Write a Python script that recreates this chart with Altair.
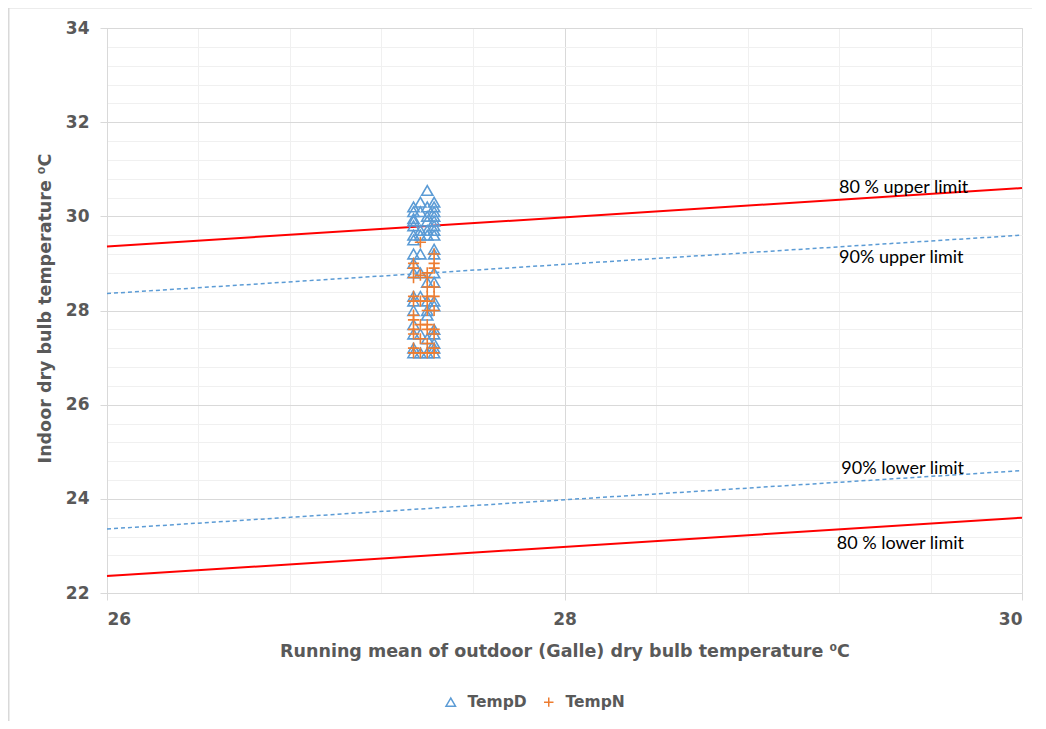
import altair as alt
import pandas as pd

# ---- data ----
tempD_x = ([27.34] * 17) + ([27.37] * 9) + ([27.40] * 12) + ([27.43] * 19)
tempD_y = [30.2, 30.1, 29.95, 29.9, 29.8, 29.6, 29.5, 29.2, 29.0, 28.8, 28.3, 28.2, 28.0, 27.7, 27.5, 27.2, 27.1,
           30.3, 30.1, 29.7, 29.6, 29.2, 28.8, 28.3, 27.5, 27.1,
           30.55, 30.2, 30.0, 29.9, 29.7, 29.6, 28.6, 28.2, 28.0, 27.9, 27.4, 27.1,
           30.3, 30.2, 30.1, 30.0, 29.9, 29.8, 29.7, 29.6, 29.3, 29.2, 28.8, 28.6, 28.2, 28.1, 27.6, 27.5, 27.3, 27.2, 27.1]
tempN_x = ([27.34] * 11) + ([27.37] * 6) + ([27.40] * 10) + ([27.43] * 10)
tempN_y = [29.0, 28.9, 28.7, 28.3, 28.2, 27.9, 27.8, 27.6, 27.5, 27.2, 27.1,
           29.45, 28.75, 28.2, 27.7, 27.4, 27.1,
           28.8, 28.7, 28.5, 28.3, 28.2, 28.0, 27.7, 27.6, 27.3, 27.1,
           29.2, 29.0, 28.9, 28.5, 28.3, 28.0, 27.6, 27.5, 27.2, 27.1]

line_x = [26, 30]
upper80 = [29.36, 30.60]
upper90 = [28.36, 29.60]
lower90 = [23.36, 24.60]
lower80 = [22.36, 23.60]

label_text = ["80 % upper limit", "90% upper limit", "90% lower limit", "80 % lower limit"]
label_x = [29.20, 29.20, 29.21, 29.19]
label_y = [30.60, 29.11, 24.63, 23.04]

grid_x = [26, 26.4, 26.8, 27.2, 27.6, 28, 28.4, 28.8, 29.2, 29.6, 30]
grid_y = [22, 22.4, 22.8, 23.2, 23.6, 24, 24.4, 24.8, 25.2, 25.6, 26, 26.4, 26.8, 27.2, 27.6,
          28, 28.4, 28.8, 29.2, 29.6, 30, 30.4, 30.8, 31.2, 31.6, 32, 32.4, 32.8, 33.2, 33.6, 34]

series = ["TempD", "TempN"]
colors = ["#5B9BD5", "#ED7D31"]

# ---- tables ----
pts = pd.DataFrame({
    "x": tempD_x + tempN_x,
    "y": tempD_y + tempN_y,
    "series": ["TempD"] * len(tempD_x) + ["TempN"] * len(tempN_x),
})
red = pd.DataFrame({"x": line_x * 2, "y": upper80 + lower80, "k": ["u"] * 2 + ["l"] * 2})
blue = pd.DataFrame({"x": line_x * 2, "y": upper90 + lower90, "k": ["u"] * 2 + ["l"] * 2})
labels = pd.DataFrame({"x": label_x, "y": label_y, "t": label_text})

MAJOR = "abs(datum.value/2 - round(datum.value/2)) < 0.001"
AX_FONT = "DejaVu Sans"
GRAY = "#595959"

x_scale = alt.Scale(domain=[26, 30], nice=False, zero=False)
y_scale = alt.Scale(domain=[22, 34], nice=False, zero=False)

common = dict(
    format=".0f", labelExpr=f"{MAJOR} ? datum.label : ''", labelOverlap=False, tickCount=200,
    gridColor={"condition": {"test": MAJOR, "value": "#d9d9d9"}, "value": "#f0f0f0"},
    tickOpacity={"condition": {"test": MAJOR, "value": 1}, "value": 0},
    tickColor="#d9d9d9", tickSize=7, domainColor="#d9d9d9",
    labelFont=AX_FONT, labelFontSize=17, labelFontWeight="bold", labelColor=GRAY, labelPadding=11,
    titleFont=AX_FONT, titleFontSize=17.5, titleFontWeight="bold", titleColor=GRAY,
    titleBaseline="middle", titleAlign="center",
)

x_axis = alt.Axis(
    values=grid_x,
    title="Running mean of outdoor (Galle) dry bulb temperature \u2070C",
    titleX=457.5, titleY=58, **common,
)
y_axis = alt.Axis(
    values=grid_y,
    title="Indoor dry bulb temperature \u2070C",
    titleX=-62, titleY=280, titleAngle=-90, **common,
)

red_lines = alt.Chart(red).mark_line(color="#FF0000", strokeWidth=2).encode(
    x=alt.X("x:Q", scale=x_scale, axis=x_axis),
    y=alt.Y("y:Q", scale=y_scale, axis=y_axis),
    detail="k:N",
)
blue_lines = alt.Chart(blue).mark_line(color="#5B9BD5", strokeWidth=1.5, strokeDash=[4, 3]).encode(
    x="x:Q", y="y:Q", detail="k:N",
)

legend_opts = dict(title=None, orient="none", legendX=336, legendY=666,
                   direction="horizontal", labelFont=AX_FONT, labelFontSize=15.5,
                   labelFontWeight="bold", labelColor=GRAY, symbolStrokeWidth=1.5,
                   symbolSize=90, columnPadding=14, labelOffset=9, padding=0)

points = alt.Chart(pts).mark_point(filled=False, size=125, strokeWidth=1.6, opacity=1).encode(
    x="x:Q",
    y="y:Q",
    color=alt.Color("series:N", scale=alt.Scale(domain=series, range=colors),
                    legend=alt.Legend(**legend_opts)),
    shape=alt.Shape("series:N", scale=alt.Scale(domain=series, range=["triangle-up", "M-1,0L1,0M0,-1L0,1"]),
                    legend=alt.Legend(**legend_opts)),
)

texts = alt.Chart(labels).mark_text(align="left", baseline="middle", font="Lato", fontSize=18,
                                     color="#000000").encode(x="x:Q", y="y:Q", text="t:N")

border_df = pd.DataFrame({"a": [0]})
border_left = alt.Chart(border_df).mark_rule(color="#d9d9d9", strokeWidth=2, clip=False).encode(
    x=alt.value(-98.5), y=alt.value(-20), y2=alt.value(730))
border_top = alt.Chart(border_df).mark_rule(color="#d9d9d9", strokeWidth=2, clip=False).encode(
    x=alt.value(-98.5), x2=alt.value(940), y=alt.value(-20.5))

chart = alt.layer(red_lines, blue_lines, points, texts, border_left, border_top).properties(
    width=915, height=565,
    autosize=alt.AutoSizeParams(type="none"),
    padding={"left": 99, "top": 20, "right": 10, "bottom": 128},
).configure_view(stroke=None).configure(background="white")

chart.save("out.html", embed_options={"renderer": "svg", "actions": False})
